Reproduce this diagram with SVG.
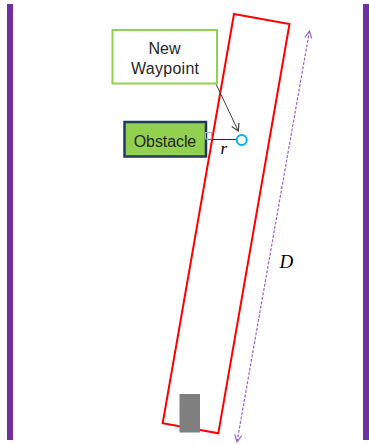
<svg xmlns="http://www.w3.org/2000/svg" width="369" height="445" viewBox="0 0 369 445">
<style>
.bar{fill:#7030a0}
.lbl{font-family:"Liberation Sans",Arial,sans-serif;font-size:16px;fill:#262626;text-anchor:middle}
.math{font-family:"Liberation Serif","Times New Roman",serif;font-style:italic;fill:#000}
</style>
<defs>
<marker id="ah" markerWidth="10" markerHeight="10" refX="8" refY="5" orient="auto" markerUnits="userSpaceOnUse">
<path d="M1,1 L8,5 L1,9" fill="none" stroke="#404040" stroke-width="1.2"/>
</marker>
<marker id="pa" markerWidth="10" markerHeight="10" refX="8" refY="5" orient="auto-start-reverse" markerUnits="userSpaceOnUse">
<path d="M1,1.5 L8,5 L1,8.5" fill="none" stroke="#9966cc" stroke-width="1.2"/>
</marker>
</defs>
<rect class="bar" x="7" y="4" width="6" height="436"/>
<rect class="bar" x="363" y="4" width="6" height="436"/>
<g id="corridor">
<polygon points="234,14 289.5,24 218.3,433.3 162.7,423.3" fill="none" stroke="#ff0000" stroke-width="2"/>
</g>
<g id="vehicle">
<rect x="179.5" y="394" width="20.5" height="38.5" fill="#7f7f7f"/>
</g>
<g id="connectors">
<line x1="309.5" y1="31" x2="237" y2="442" stroke="#9966cc" stroke-width="1.2" stroke-dasharray="3,1.5" marker-start="url(#pa)" marker-end="url(#pa)"/>
<line x1="216" y1="84" x2="238.3" y2="131" stroke="#404040" stroke-width="1" marker-end="url(#ah)"/>
<line x1="208" y1="139.5" x2="236.5" y2="139.5" stroke="#262626" stroke-width="1"/>
</g>
<g id="new-waypoint">
<rect x="112.5" y="30" width="104.5" height="53.5" fill="#fff" stroke="#92d050" stroke-width="2"/>
<text class="lbl" x="164.5" y="53.5">New</text>
<text class="lbl" x="165" y="73.5" textLength="68">Waypoint</text>
</g>
<g id="obstacle">
<rect x="124.5" y="122" width="81.5" height="34.5" fill="#92d050" stroke="#1f3864" stroke-width="2.5"/>
<text class="lbl" x="165" y="146.5" textLength="62.5">Obstacle</text>
<rect x="205.5" y="132.5" width="6" height="6.5" fill="none" stroke="#8eb4e3" stroke-width="1"/>
</g>
<g id="waypoint">
<circle cx="241.7" cy="140" r="5" fill="#fff" stroke="#00b0f0" stroke-width="2"/>
</g>
<text class="math" x="220.5" y="153.5" font-size="17">r</text>
<text class="math" x="279.5" y="267.5" font-size="19">D</text>
</svg>
